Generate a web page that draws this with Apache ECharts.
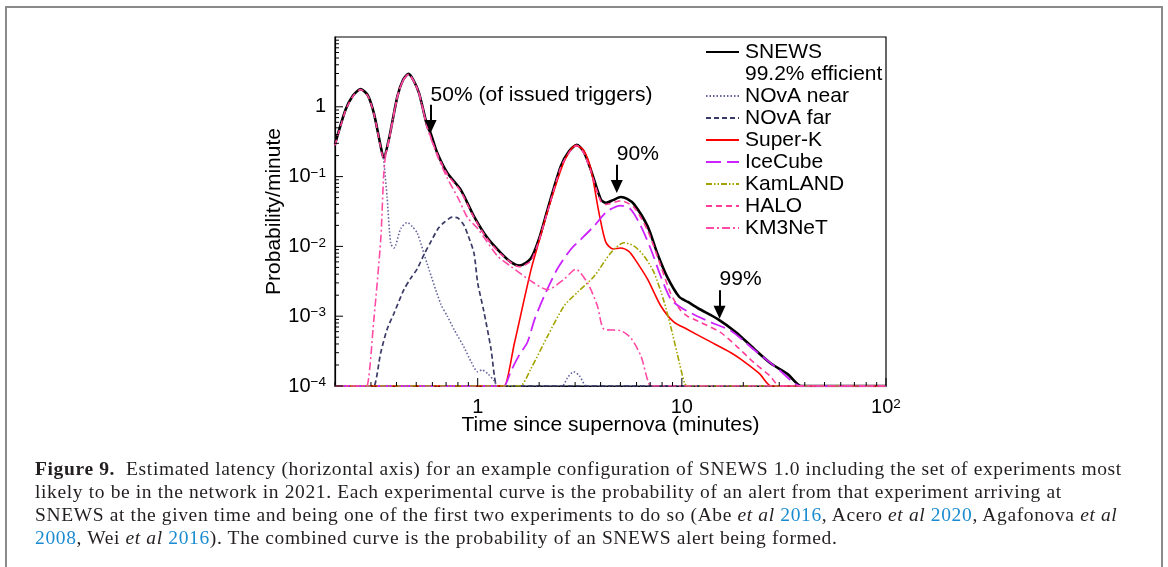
<!DOCTYPE html>
<html>
<head>
<meta charset="utf-8">
<script src="https://cdn.jsdelivr.net/npm/echarts@6.0.0/dist/echarts.min.js"></script>
<style>
  html, body { margin: 0; padding: 0; background: #fff; }
  #wrap { position: relative; width: 1168px; height: 567px; overflow: hidden; background: #fff; }
  #frame { position: absolute; left: 5px; top: 6px; width: 1158px; height: 620px; border: 2px solid #8a8a8a; box-sizing: border-box; }
  #chart { position: absolute; left: 0; top: 0; width: 1168px; height: 567px; }
  #caption { position: absolute; left: 35px; top: 457px; font-family: "Liberation Serif", "DejaVu Serif", serif; font-size: 19.5px; letter-spacing: 0.63px; line-height: 23px; color: #231f20; white-space: nowrap; }
  #caption a { color: #1a8bd0; text-decoration: none; }
</style>
</head>
<body>
<div id="wrap">
  <div id="frame"></div>
  <div id="chart"></div>
  <div id="caption"><b>Figure 9.</b>&nbsp;&nbsp;Estimated latency (horizontal axis) for an example configuration of SNEWS 1.0 including the set of experiments most<br>likely to be in the network in 2021. Each experimental curve is the probability of an alert from that experiment arriving at<br>SNEWS at the given time and being one of the first two experiments to do so (Abe <i>et al</i> <a>2016</a>, Acero <i>et al</i> <a>2020</a>, Agafonova <i>et al</i><br><a>2008</a>, Wei <i>et al</i> <a>2016</a>). The combined curve is the probability of an SNEWS alert being formed.</div>
</div>
<script>
// ---- data: [time (minutes), probability/minute] ----
const snews = [[0.2,0.29],[0.225,0.9],[0.245,1.45],[0.267,1.79],[0.29,1.45],[0.31,0.81],[0.335,0.27],[0.346,0.185],[0.367,0.34],[0.404,1.4],[0.43,2.4],[0.458,2.96],[0.485,2.4],[0.516,1.57],[0.567,0.52],[0.588,0.42],[0.634,0.218],[0.71,0.113],[0.825,0.065],[0.959,0.027],[1.115,0.0133],[1.297,0.0081],[1.45,0.006],[1.6,0.0053],[1.82,0.0067],[2.0,0.013],[2.2,0.034],[2.55,0.14],[2.8,0.23],[3.06,0.286],[3.3,0.23],[3.58,0.126],[4.01,0.047],[4.24,0.042],[4.6,0.046],[5.02,0.051],[5.4,0.048],[5.84,0.040],[6.79,0.0195],[7.6,0.0078],[8.5,0.0036],[9.7,0.0019],[10.7,0.0016],[12,0.0013],[15,0.00091],[18.4,0.00059],[22.6,0.00034],[27.3,0.00021],[33,0.000148],[38.3,0.0001],[40,0.0001],[100,0.0001]];
const novaNear = [[0.346,0.185],[0.36,0.05],[0.375,0.011],[0.389,0.0095],[0.42,0.018],[0.452,0.022],[0.48,0.019],[0.506,0.0155],[0.567,0.0055],[0.659,0.0015],[0.71,0.001],[0.765,0.00065],[0.857,0.00036],[0.93,0.00022],[1.0,0.00016],[1.05,0.00017],[1.12,0.00015],[1.2,0.00012],[1.25,0.0001],[1.3,0.0001],[2.55,0.0001],[2.6,0.0001],[2.75,0.00013],[2.95,0.00016],[3.15,0.00014],[3.4,0.0001],[3.5,0.0001],[100,0.0001]];
const novaFar = [[0.2,0.0001],[0.3,0.0001],[0.31,0.0001],[0.335,0.0003],[0.36,0.00065],[0.389,0.0011],[0.435,0.0024],[0.47,0.0035],[0.506,0.0048],[0.55,0.008],[0.588,0.0115],[0.64,0.018],[0.684,0.022],[0.75,0.0262],[0.8,0.0255],[0.857,0.02],[0.9,0.014],[0.959,0.008],[1.0,0.003],[1.07,0.0012],[1.16,0.00035],[1.24,0.0001],[1.28,0.0001],[100,0.0001]];
const superK = [[0.2,0.0001],[1.3,0.0001],[1.35,0.0001],[1.51,0.0004],[1.82,0.0045],[2.0,0.012],[2.2,0.032],[2.65,0.165],[3.02,0.28],[3.3,0.24],[3.58,0.13],[3.93,0.03],[4.24,0.0115],[4.6,0.0092],[5.02,0.0095],[5.5,0.0085],[5.84,0.0068],[6.79,0.0034],[7.89,0.0014],[9.15,0.00082],[10.5,0.00066],[13.4,0.00045],[17.4,0.0003],[19.5,0.00024],[24,0.00015],[27.3,0.0001],[28.5,0.0001],[100,0.0001]];
const iceCube = [[0.2,0.0001],[1.3,0.0001],[1.35,0.0001],[1.45,0.00016],[1.6,0.00028],[1.75,0.00042],[1.9,0.0009],[2.11,0.0019],[2.45,0.0047],[2.86,0.0091],[3.2,0.0126],[3.71,0.0195],[4.32,0.032],[5.02,0.0385],[5.62,0.034],[6.3,0.0195],[7.05,0.0091],[7.89,0.0037],[8.83,0.00175],[9.89,0.00133],[11.9,0.001],[14.4,0.00078],[17.4,0.00062],[22.6,0.00033],[30,0.00017],[38,0.0001],[40,0.0001],[100,0.0001]];
const kamland = [[0.2,0.0001],[1.57,0.0001],[1.62,0.0001],[1.82,0.000175],[2.2,0.00052],[2.65,0.0014],[3.08,0.0022],[3.71,0.0037],[4.49,0.0081],[5.2,0.0113],[5.84,0.0101],[6.53,0.0073],[7.31,0.0042],[8.19,0.0016],[8.83,0.0007],[9.52,0.00028],[10.3,0.00011],[10.6,0.0001],[11,0.0001],[100,0.0001]];
const halo = [[0.2,0.28],[0.225,0.88],[0.245,1.42],[0.267,1.76],[0.29,1.42],[0.31,0.8],[0.335,0.26],[0.346,0.18],[0.367,0.33],[0.404,1.38],[0.43,2.35],[0.458,2.92],[0.485,2.36],[0.516,1.55],[0.567,0.51],[0.634,0.21],[0.71,0.108],[0.825,0.062],[0.959,0.026],[1.115,0.0128],[1.297,0.0078],[1.6,0.0051],[1.82,0.0062],[2.0,0.0125],[2.2,0.032],[2.55,0.135],[2.8,0.22],[3.06,0.28],[3.3,0.22],[3.58,0.12],[4.01,0.044],[4.24,0.04],[5.02,0.045],[5.84,0.036],[6.79,0.017],[7.89,0.0052],[8.83,0.0021],[9.89,0.0012],[10.66,0.001],[12,0.00085],[15.4,0.00059],[18.4,0.00038],[22.6,0.000215],[27,0.00014],[30,0.0001],[31.5,0.0001],[100,0.0001]];
const km3net = [[0.2,0.0001],[0.275,0.0001],[0.286,0.0001],[0.31,0.0009],[0.335,0.0126],[0.346,0.1],[0.352,0.18],[0.367,0.33],[0.404,1.38],[0.43,2.35],[0.458,2.9],[0.485,2.35],[0.516,1.55],[0.567,0.5],[0.634,0.2],[0.71,0.095],[0.8,0.05],[0.89,0.026],[1.0,0.018],[1.25,0.0073],[1.45,0.0052],[1.82,0.0032],[2.2,0.0024],[2.65,0.0034],[3.02,0.0047],[3.45,0.003],[3.86,0.0014],[4.16,0.00065],[5.02,0.00062],[5.62,0.00049],[6.3,0.00027],[7.05,0.0001],[7.4,0.0001],[100,0.0001]];

// ---- axes / ticks ----
const xMin = 0.2, xMax = 100, yMin = 0.0001, yMax = 10;
const xMajorTicks = [1, 10, 100];
const xMinorTicks = [0.2,0.3,0.4,0.5,0.6,0.7,0.8,0.9,2,3,4,5,6,7,8,9,20,30,40,50,60,70,80,90];
const yMajorTicks = [0.0001, 0.001, 0.01, 0.1, 1];
const yMinorTicks = [2e-4,3e-4,4e-4,5e-4,6e-4,7e-4,8e-4,9e-4,2e-3,3e-3,4e-3,5e-3,6e-3,7e-3,8e-3,9e-3,0.02,0.03,0.04,0.05,0.06,0.07,0.08,0.09,0.2,0.3,0.4,0.5,0.6,0.7,0.8,0.9,2,3,4,5,6,7,8,9];

// ---- annotations: [label, time, text prob, arrow start prob, arrow end prob] ----
const notes = [
  ['50% (of issued triggers)', 0.588, 1.48, 1.07, 0.52],
  ['90%', 4.8, 0.206, 0.148, 0.072],
  ['99%', 15.3, 0.0034, 0.00235, 0.00114]
];

const FONT = '"Liberation Sans", Arial, Helvetica, sans-serif';
const sup = (v) => {
  const e = Math.round(Math.log10(v));
  if (e === 0) return '{b|1}';
  if (e === 1) return '{b|10}';
  return '{b|10}{s|' + (e < 0 ? '\u2212' + (-e) : e) + '}';
};
const rich = {
  b: { fontSize: 20, fontFamily: FONT, color: '#000', lineHeight: 21 },
  s: { fontSize: 13.5, fontFamily: FONT, color: '#000', verticalAlign: 'top', lineHeight: 12 }
};

const chart = echarts.init(document.getElementById('chart'), null, { renderer: 'canvas' });

const mk = (name, data, color, width, type, z) => ({
  name, type: 'line', data, showSymbol: false, symbol: 'none', smooth: 0.25,
  xAxisIndex: 0, yAxisIndex: 0, z: z || 2, clip: true,
  lineStyle: { color, width, type, cap: 'butt' }, itemStyle: { color }
});

const snewsSeries = mk('SNEWS', snews, '#000000', 2.6, 'solid', 1);
snewsSeries.markLine = {
  silent: true, symbol: ['none', 'triangle'], symbolSize: [12, 13], precision: 10,
  lineStyle: { color: '#000', width: 2, type: 'solid' }, label: { show: false },
  data: notes.map(n => [{ coord: [n[1], n[3]] }, { coord: [n[1], n[4]] }])
};
snewsSeries.markPoint = {
  silent: true, symbol: 'circle', symbolSize: 0,
  label: { show: true, position: 'right', distance: 0, color: '#000', fontSize: 21, fontFamily: FONT, formatter: p => p.name },
  data: notes.map(n => ({ name: n[0], coord: [n[1], n[2]], value: 0 }))
};

// inward tick marks drawn through the axes' own log scales: [x, y, length, direction]
const xTickData = xMajorTicks.map(t => [t, yMin, 8, 0]).concat(xMinorTicks.map(t => [t, yMin, 4, 0]));
const yTickData = yMajorTicks.map(v => [xMin, v, 8, 1]).concat(yMinorTicks.map(v => [xMin, v, 4, 1]));
const tickSeries = {
  name: '_ticks', type: 'custom', xAxisIndex: 0, yAxisIndex: 0, clip: false, silent: true, z: 10,
  data: xTickData.concat(yTickData),
  renderItem: (params, api) => {
    const p = api.coord([api.value(0), api.value(1)]);
    const len = api.value(2);
    const vertical = api.value(3) === 0;
    return {
      type: 'line',
      shape: vertical ? { x1: p[0], y1: p[1], x2: p[0], y2: p[1] - len } : { x1: p[0], y1: p[1], x2: p[0] + len, y2: p[1] },
      style: { stroke: '#000', lineWidth: 1 }
    };
  }
};

const option = {
  backgroundColor: 'transparent',
  animation: false,
  grid: { left: 335, right: 282, top: 37, bottom: 181, show: true, borderColor: '#000', borderWidth: 1.2, backgroundColor: 'transparent' },
  legend: {
    orient: 'vertical', left: 705, top: 41, padding: 0, itemGap: 0, itemWidth: 33, itemHeight: 12,
    selectedMode: false,
    itemStyle: { opacity: 0 },
    textStyle: { fontSize: 21, fontFamily: FONT, color: '#000', lineHeight: 22, padding: [0, 0, 0, 1] },
    data: ['SNEWS', { name: '99.2% efficient', icon: 'none' }, 'NOvA near', 'NOvA far', 'Super-K', 'IceCube', 'KamLAND', 'HALO', 'KM3NeT']
  },
  xAxis: {
    type: 'log', logBase: 10, min: xMin, max: xMax, position: 'bottom',
    name: 'Time since supernova (minutes)', nameLocation: 'middle', nameGap: 29, nameMoveOverlap: false,
    nameTextStyle: { fontSize: 21, fontFamily: FONT, color: '#000' },
    axisLine: { show: true, onZero: false, lineStyle: { color: '#000', width: 1.2 } },
    axisTick: { show: false },
    axisLabel: { show: true, customValues: xMajorTicks, margin: 11, formatter: sup, rich },
    splitLine: { show: false }, minorTick: { show: false }
  },
  yAxis: {
    type: 'log', logBase: 10, min: yMin, max: yMax, position: 'left',
    name: 'Probability/minute', nameLocation: 'middle', nameGap: 50, nameMoveOverlap: false,
    nameTextStyle: { fontSize: 21, fontFamily: FONT, color: '#000' },
    axisLine: { show: true, onZero: false, lineStyle: { color: '#000', width: 1.2 } },
    axisTick: { show: false },
    axisLabel: { show: true, customValues: yMajorTicks, margin: 9, formatter: sup, rich },
    splitLine: { show: false }, minorTick: { show: false }
  },
  series: [
    snewsSeries,
    { name: '99.2% efficient', type: 'line', data: [], lineStyle: { width: 0 } },
    mk('NOvA near', novaNear, '#6464a0', 1.6, [1.5, 2], 3),
    mk('NOvA far', novaFar, '#3a3a66', 1.7, [5, 3], 3),
    mk('Super-K', superK, '#ff0000', 1.6, 'solid', 3),
    mk('IceCube', iceCube, '#cc22ff', 1.8, [15, 6], 3),
    mk('KamLAND', kamland, '#a3a300', 1.6, [6, 2, 1.5, 2, 1.5, 2], 3),
    mk('HALO', halo, '#ff3d99', 1.6, [6, 4], 4),
    mk('KM3NeT', km3net, '#ff4aa6', 1.6, [8, 3, 2, 3], 4),
    tickSeries
  ]
};
chart.setOption(option);
</script>
</body>
</html>
